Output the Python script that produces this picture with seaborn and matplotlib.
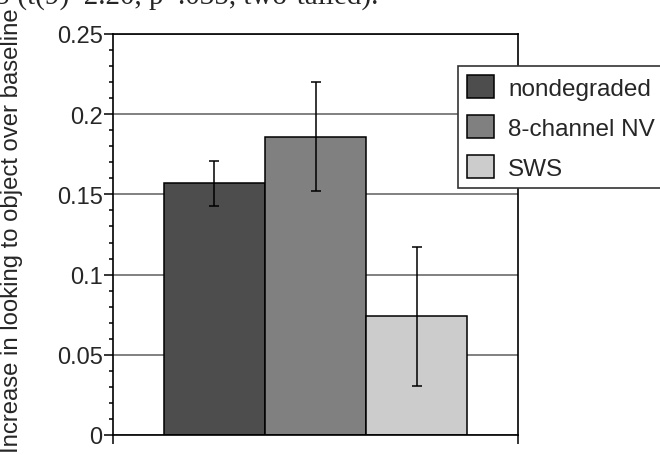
import pandas as pd
import seaborn as sns
import matplotlib
matplotlib.use("Agg")
import matplotlib.pyplot as plt
from matplotlib.ticker import MultipleLocator, FuncFormatter

conditions = ["nondegraded", "8-channel NV", "SWS"]
increase = [0.157, 0.186, 0.074]
sem = [0.014, 0.034, 0.0435]
bar_colors = ["#4d4d4d", "#808080", "#cccccc"]
ylabel = "Increase in looking to object over baseline"
top_note = "S (t(9)  2.20, p  .035, two-tailed)."

df = pd.DataFrame({"cond": conditions, "val": increase})

sns.set_style("white")
plt.rcParams["font.family"] = ["Liberation Sans", "DejaVu Sans"]

fig = plt.figure(figsize=(6.6, 4.56), dpi=100)
ax = fig.add_axes([113 / 660, 20 / 456, 405 / 660, 401 / 456])

sns.barplot(data=df, x="cond", y="val", hue="cond", palette=bar_colors,
            width=1, edgecolor="black", linewidth=1.1, ax=ax, legend=True)
ax.errorbar(x=range(len(conditions)), y=increase, yerr=sem, fmt="none",
            ecolor="black", elinewidth=1.1, capsize=3.6, capthick=1.1)

ax.set_xlim(-1, 3)
ax.set_ylim(0, 0.25)
ax.yaxis.set_major_locator(MultipleLocator(0.05))
ax.yaxis.set_minor_locator(MultipleLocator(0.01))
ax.yaxis.set_major_formatter(FuncFormatter(lambda v, p: "%g" % round(v, 2)))
ax.set_xticks([-1, 3])
ax.set_xticklabels(["", ""])
ax.tick_params(axis="both", which="major", direction="out", length=6.5,
               width=1.1, color="black", labelsize=17, pad=1, left=True, bottom=True)
ax.tick_params(axis="y", which="minor", direction="out", length=3, width=1.1,
               color="black", left=True)
ax.set_xlabel("")
ax.set_ylabel("")
ax.yaxis.grid(True, color="#808080", lw=1.4)
ax.set_axisbelow(True)
for s in ax.spines.values():
    s.set_color("black")
    s.set_linewidth(1.2)
    s.set_visible(True)

# legend box runs past the right edge of the figure, as in the original crop
handles, labels = ax.get_legend_handles_labels()
ax.get_legend().remove()
leg = ax.legend(handles, labels, loc="upper left", mode="expand",
                bbox_to_anchor=(458 / 660, 0, 230 / 660, 1 - 67 / 456),
                bbox_transform=fig.transFigure,
                fontsize=17.5, handlelength=1.12, handleheight=1.12, labelspacing=0.62,
                handletextpad=0.6, borderpad=0.35, borderaxespad=0, frameon=True,
                fancybox=False, edgecolor="#333333", framealpha=1)
leg.get_frame().set_linewidth(1.2)
for h in leg.legend_handles:
    h.set_edgecolor("black")
    h.set_linewidth(1.1)

fig.text(12 / 660, 1 - 231 / 456, ylabel, rotation=90, ha="center", va="center",
         fontsize=17.2)
fig.text(-6 / 660, 1 - 4 / 456, top_note, ha="left", va="baseline", fontsize=21,
         family=["Liberation Serif", "DejaVu Serif"])

fig.savefig("out.png", dpi=100)
